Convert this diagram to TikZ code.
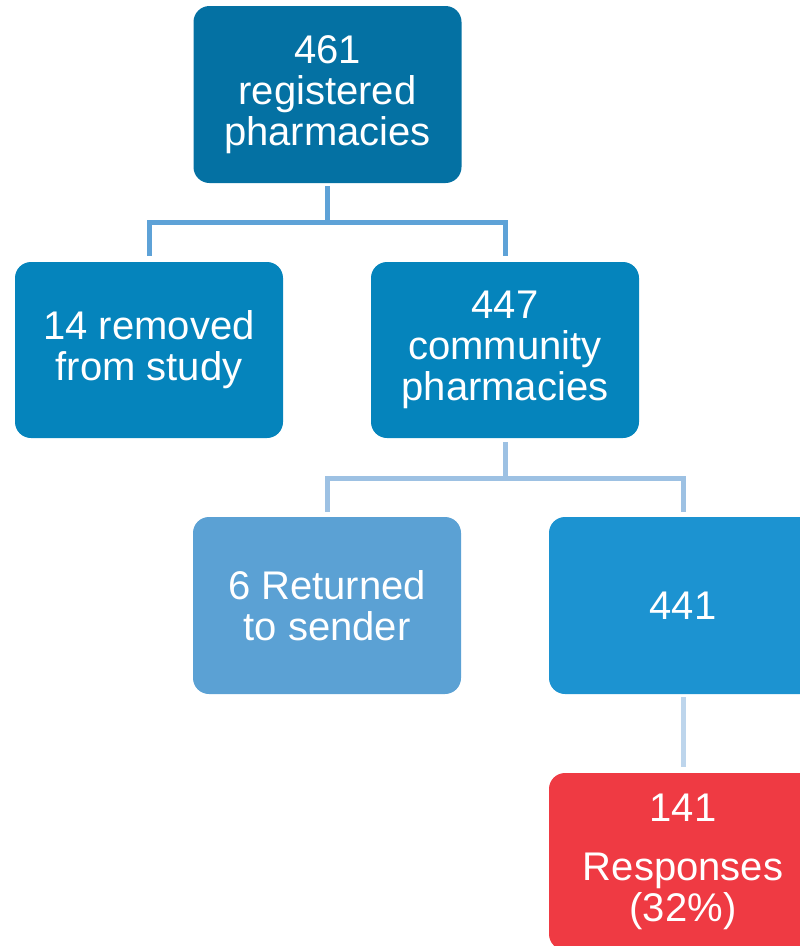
\documentclass[tikz,border=0pt]{standalone}
\usepackage{fontspec}
\setmainfont{Liberation Sans}
\usetikzlibrary{calc}
\definecolor{cTop}{HTML}{0471A3}
\definecolor{cMid}{HTML}{0584BC}
\definecolor{cRet}{HTML}{5BA1D4}
\definecolor{cFour}{HTML}{1C93D1}
\definecolor{cRed}{HTML}{EF3A43}
\definecolor{cLineA}{HTML}{5EA2D7}
\definecolor{cLineB}{HTML}{9DC1E3}
\definecolor{cLineC}{HTML}{BDD5EC}
\begin{document}
\begin{tikzpicture}[x=1pt,y=-1pt,
  box/.style={rectangle, rounded corners=16pt, minimum width=268pt, minimum height=177pt,
    inner sep=0pt, text=white, align=center, font=\fontsize{40}{41}\selectfont},
  conn/.style={line width=5pt, line cap=butt, line join=miter}]
\useasboundingbox (0,0) rectangle (800,946);
\clip (0,0) rectangle (800,946);
\node[box, fill=cTop] (top) at (327.5,94.5) {461\\registered\\pharmacies};
\node[box, fill=cMid, minimum height=176pt] (left) at (149,350) {14 removed\\from study};
\node[box, fill=cMid, minimum height=176pt] (mid) at (505,350) {447\\community\\pharmacies};
\node[box, fill=cRet] (ret) at (327,605.5) {6 Returned\\to sender};
\node[box, fill=cFour] (four) at (683,605.5) {441};
\node[box, fill=cRed] (resp) at (683,861.5) {141\\[18pt]Responses\\(32\%)};
% connectors
\draw[conn, cLineA] ($(top.south)+(0,3)$) -- ++(0,36) coordinate (j1);
\draw[conn, cLineA] ($(left.north)+(0,-6)$) |- (j1) -| ($(mid.north)+(0,-6)$);
\draw[conn, cLineB] ($(mid.south)+(0,4)$) -- ++(0,36) coordinate (j2);
\draw[conn, cLineB] ($(ret.north)+(0,-5)$) |- (j2) -| ($(four.north)+(0,-5)$);
\draw[conn, cLineC] ($(four.south)+(0,3)$) -- ($(resp.north)+(0,-6)$);
\end{tikzpicture}
\end{document}
